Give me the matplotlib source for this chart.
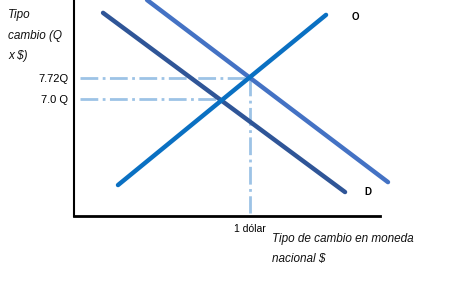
import matplotlib
matplotlib.use("Agg")
import matplotlib.pyplot as plt

# curve end points (x: dollars, y: exchange rate Q per $)
d1_x = [0.165, 1.54]
d1_y = [9.95, 3.81]
d2_x = [0.415, 1.784]
d2_y = [10.39, 4.15]
o_x = [0.25, 1.432]
o_y = [4.05, 9.88]

# equilibrium guides
eq_high = 7.72
eq_low = 7.0
eq_low_x = 0.835
eq_q = 1.0
tick_labels = ['7.0 Q', '7.72Q']

c_d1 = '#2F5597'
c_d2 = '#4472C4'
c_o = '#0A70C2'
c_guide = '#9DC3E6'

plt.rcParams['font.family'] = ['Liberation Sans', 'DejaVu Sans']

fig = plt.figure(figsize=(4.74, 2.82), dpi=100)
ax = fig.add_axes([74/474, 66/282, 400/474, 216/282])
ax.set_xlim(0, 400/176)
ax.set_ylim(2.99, 10.39)

# guides
ax.plot([0.034, eq_q], [eq_high, eq_high], color=c_guide, lw=2, ls='-.', zorder=1)
ax.plot([0.034, eq_low_x], [eq_low, eq_low], color=c_guide, lw=2, ls='-.', zorder=1)
ax.plot([eq_q, eq_q], [eq_high, 3.09], color=c_guide, lw=2, ls='-.', zorder=1)

# curves
ax.plot(d1_x, d1_y, color=c_d1, lw=3.2, solid_capstyle='round', zorder=2)
ax.plot(d2_x, d2_y, color=c_d2, lw=3.2, solid_capstyle='round', zorder=2)
ax.plot(o_x, o_y, color=c_o, lw=3.2, solid_capstyle='round', zorder=3)

ax.text(1.6, 9.8, 'O', fontsize=7, fontweight='bold', ha='center', va='center')
ax.text(1.67, 3.82, 'D', fontsize=7, fontweight='bold', ha='center', va='center')

# axes
for s in ['top', 'right']:
    ax.spines[s].set_visible(False)
ax.spines['left'].set_linewidth(1.5)
ax.spines['bottom'].set_linewidth(2)
ax.spines['bottom'].set_bounds(0, 306/176)
ax.set_yticks([eq_low, eq_high])
ax.set_yticklabels(tick_labels, fontsize=8)
ax.set_xticks([eq_q])
ax.set_xticklabels(['1 dólar'], fontsize=7.5)
ax.tick_params(length=0, pad=4)
ax.tick_params(axis='x', pad=6)

lab = dict(fontsize=8.5, style='italic', ha='left', va='center', color='#111111')
fig.text(8/474, 1 - 15/282, 'Tipo', **lab)
fig.text(8/474, 1 - 36/282, 'cambio (Q', **lab)
fig.text(8/474, 1 - 56/282, 'x $)', **lab)
fig.text(272/474, 1 - 239/282, 'Tipo de cambio en moneda', **lab)
fig.text(272/474, 1 - 259/282, 'nacional $', **lab)

fig.savefig('out.png', dpi=100)
